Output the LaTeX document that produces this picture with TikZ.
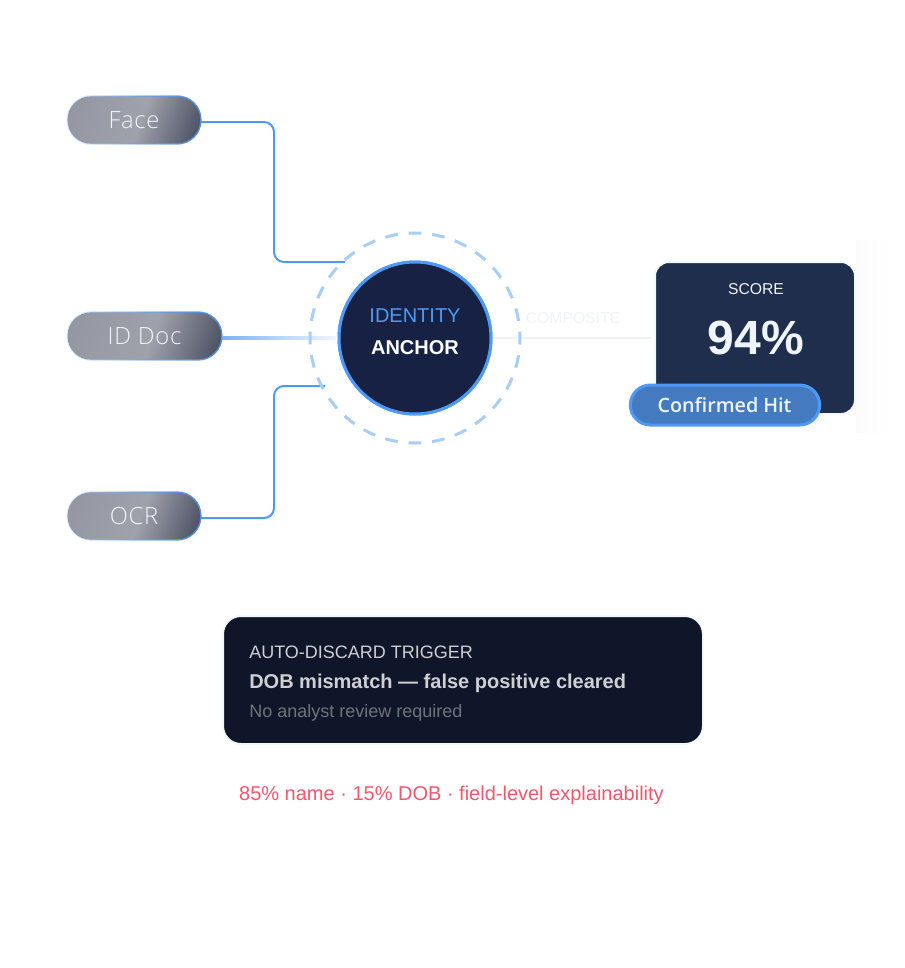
\documentclass[tikz,border=0pt]{standalone}
\usepackage{fontspec}
\setmainfont{Liberation Sans}
\newfontfamily\pillfont{Open Sans}[UprightFont=* Light,LetterSpace=3]
\newfontfamily\hitfont{Open Sans}[UprightFont=* Semibold]
\usetikzlibrary{fadings,calc}
\definecolor{lineblue}{HTML}{4F99F6}
\definecolor{ringblue}{HTML}{A7CEFB}
\definecolor{navy}{HTML}{162143}
\definecolor{cardblue}{HTML}{1F2E4D}
\definecolor{palelink}{HTML}{EFF4FB}
\definecolor{paleedge}{HTML}{F4F7FC}
\definecolor{hitblue}{HTML}{447AC0}
\definecolor{darkcard}{HTML}{0F1629}
\definecolor{pillA}{HTML}{90949F}
\definecolor{pillB}{HTML}{9FA2AB}
\definecolor{pillC}{HTML}{3F4458}
\definecolor{pilltext}{HTML}{F2F4F8}
\pgfdeclarehorizontalshading{pillshade}{100bp}{
  color(0bp)=(pillA); color(12bp)=(pillA); color(53bp)=(pillB); color(84bp)=(pillC); color(100bp)=(pillC)}
\tikzfadingfrompicture[name=pilledge]
  \fill[left color=transparent!92,right color=transparent!0] (-1,-1) rectangle (1,1);
\endtikzfadingfrompicture
\tikzset{
  x=0.75pt,y=-0.75pt,
  pill/.style={shading=pillshade,shading angle=-20,rounded corners=17.6pt,minimum height=35.5pt,inner sep=0pt,text=pilltext,font=\pillfont\fontsize{17.8pt}{20pt}\selectfont},
  pilledgeline/.style={draw=lineblue!90!black,line width=1.1pt,rounded corners=17.6pt,path fading=pilledge,fit fading=true},
  link/.style={draw=lineblue,line width=1.5pt,rounded corners=7.5pt},
  ringstyle/.style={circle,draw=ringblue,line width=2.25pt,minimum size=157.5pt,inner sep=0pt,dash pattern=on 9.6pt off 8.07pt,dash phase=4.8pt},
  core/.style={circle,draw=lineblue,fill=navy,line width=2.25pt,minimum size=114pt,inner sep=0pt},
  scorecard/.style={draw=paleedge,fill=cardblue,line width=1.5pt,rounded corners=10.5pt,minimum width=150pt,minimum height=114pt,inner sep=0pt},
  hit/.style={draw=lineblue,fill=hitblue,line width=2.25pt,rounded corners=15pt,minimum width=142pt,minimum height=30pt,inner sep=0pt},
  trigger/.style={draw=paleedge,fill=darkcard,line width=1.5pt,rounded corners=13.5pt,minimum width=360pt,minimum height=96pt,inner sep=0pt},
  label/.style={inner sep=0pt,anchor=west}
}
\begin{document}
\begin{tikzpicture}
\useasboundingbox (0,0) rectangle (905,968);
% faint glow right of the score card
\shade[left color=white!98.5!black,right color=white,draw=none] (856,240) rectangle (892,432);
% nodes
\node[pill,minimum width=99.8pt] (face) at (134,120) {Face};
\node[pill,minimum width=115.5pt] (iddoc) at (144.5,336) {ID Doc};
\node[pill,minimum width=99.8pt] (ocr) at (134,516) {OCR};
\draw[pilledgeline] (face.south west) rectangle (face.north east);
\draw[pilledgeline] (iddoc.south west) rectangle (iddoc.north east);
\draw[pilledgeline] (ocr.south west) rectangle (ocr.north east);
\node[core] (anchorc) at (415,338) {};
\coordinate (faceout) at (201,122);
\coordinate (ocrout) at (201,518);
\coordinate (facein) at (345,262);
\coordinate (ocrin) at (325,386);
\coordinate (compositeout) at (651,338);
% connectors
\draw[link] (faceout) -- (274,122) -- (274,262) -- (facein);
\draw[link] (ocrout) -- (274,518) -- (274,386) -- (ocrin);
\draw[draw=ringblue!25,line width=2.25pt] (iddoc.east |- anchorc) -- (anchorc.west);
\shade[left color=lineblue!75,middle color=ringblue!55,right color=ringblue!15,draw=none] ($(iddoc.east |- anchorc)+(0,-1.5)$) rectangle ($(anchorc.west)+(0,1.5)$);
\draw[draw=palelink,line width=1.5pt] (anchorc.east) -- (compositeout);
\node[ringstyle] (ring) at (anchorc) {};
\node[core] (anchorc2) at (anchorc) {};
\node[inner sep=0pt,text=lineblue,font=\fontsize{15pt}{18pt}\selectfont] (t1) at (415,316) {IDENTITY};
\node[inner sep=0pt,text=white,font=\bfseries\fontsize{15pt}{18pt}\selectfont] (t2) at (415,348) {ANCHOR};
\node[inner sep=0pt,text=palelink,font=\fontsize{11.8pt}{16pt}\selectfont] (comp) at (573,318) {COMPOSITE};
% score card
\node[scorecard] (score) at (755,338) {};
\node[inner sep=0pt,text=palelink,font=\fontsize{11.8pt}{14pt}\selectfont] (s1) at (756,289) {SCORE};
\node[inner sep=0pt,text=palelink,font=\bfseries\fontsize{36pt}{40pt}\selectfont] (s2) at (756,338) {94\%};
\node[hit] (hitn) at (725,405) {};
\node[inner sep=0pt,text=palelink,font=\hitfont\fontsize{14.8pt}{18pt}\selectfont] (hitt) at (724.5,405) {Confirmed Hit};
% trigger card
\node[trigger] (card) at (463,680) {};
\node[label,text=white!80!darkcard,font=\fontsize{13.5pt}{16pt}\selectfont] (c1) at (249,652) {AUTO-DISCARD TRIGGER};
\node[label,text=white!80!darkcard,font=\bfseries\fontsize{15pt}{18pt}\selectfont] (c2) at (249,683) {DOB mismatch — false positive cleared};
\node[label,text=white!40!darkcard,font=\fontsize{13.5pt}{16pt}\selectfont] (c3) at (249,713) {No analyst review required};
\node[inner sep=0pt,text={rgb,255:red,244;green,86;blue,108},font=\fontsize{15pt}{18pt}\selectfont] (foot) at (451.5,795) {85\% name · 15\% DOB · field-level explainability};
\end{tikzpicture}
\end{document}
